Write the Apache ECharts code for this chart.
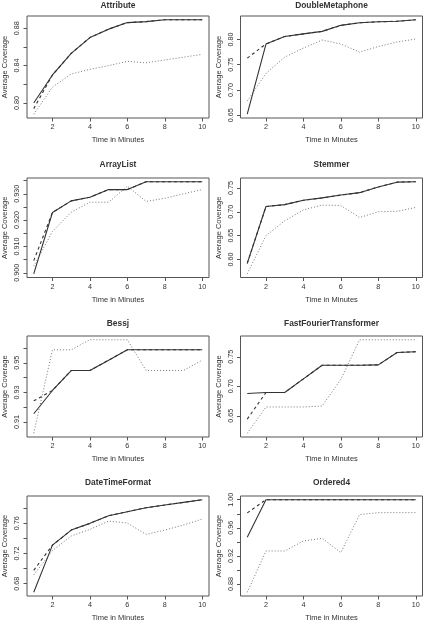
<!DOCTYPE html>
<html>
<head>
<meta charset="utf-8">
<script src="https://cdn.jsdelivr.net/npm/echarts@6/dist/echarts.min.js"></script>
<style>
  html, body { margin: 0; padding: 0; background: #fff; }
  #chart { width: 425px; height: 625px; }
</style>
</head>
<body>
<div id="chart"></div>
<script>
  const minutes = [1, 2, 3, 4, 5, 6, 7, 8, 9, 10];
  const xTicks = [2, 4, 6, 8, 10];

  // Attribute
  const attributeSolid  = [0.800, 0.830, 0.853, 0.870, 0.879, 0.886, 0.887, 0.889, 0.889, 0.889];
  const attributeDashed = [0.794, 0.830, 0.853, 0.870, 0.879, 0.886, 0.887, 0.889, 0.889, 0.889];
  const attributeDotted = [0.788, 0.817, 0.831, 0.836, 0.840, 0.8445, 0.843, 0.846, 0.849, 0.852];
  const attributeTicks  = [0.80, 0.82, 0.84, 0.86, 0.88];
  const attributeLabels = [0.80, 0.84, 0.88];

  // DoubleMetaphone
  const doubleSolid  = [0.652, 0.791, 0.806, 0.811, 0.816, 0.828, 0.833, 0.835, 0.836, 0.839];
  const doubleDashed = [0.763, 0.791, 0.806, 0.811, 0.816, 0.828, 0.833, 0.835, 0.836, 0.839];
  const doubleDotted = [0.678, 0.733, 0.765, 0.783, 0.799, 0.791, 0.775, 0.786, 0.795, 0.801];
  const doubleTicks  = [0.65, 0.70, 0.75, 0.80, 0.85];
  const doubleLabels = [0.65, 0.70, 0.75, 0.80, 0.85];

  // ArrayList
  const arraySolid  = [0.8996, 0.9229, 0.9273, 0.9287, 0.9316, 0.9316, 0.9346, 0.9346, 0.9346, 0.9346];
  const arrayDashed = [0.9046, 0.9229, 0.9273, 0.9287, 0.9316, 0.9316, 0.9346, 0.9346, 0.9346, 0.9346];
  const arrayDotted = [0.9025, 0.9157, 0.9230, 0.9268, 0.9268, 0.9329, 0.9271, 0.9283, 0.9300, 0.9316];
  const arrayTicks  = [0.900, 0.905, 0.910, 0.915, 0.920, 0.925, 0.930, 0.935];
  const arrayLabels = [0.900, 0.910, 0.920, 0.930];

  // Stemmer
  const stemmerSolid  = [0.592, 0.711, 0.715, 0.724, 0.729, 0.735, 0.740, 0.752, 0.762, 0.763];
  const stemmerDashed = [0.592, 0.711, 0.715, 0.724, 0.729, 0.735, 0.740, 0.752, 0.762, 0.763];
  const stemmerDotted = [0.570, 0.650, 0.681, 0.704, 0.714, 0.713, 0.688, 0.700, 0.701, 0.709];
  const stemmerTicks  = [0.60, 0.65, 0.70, 0.75];
  const stemmerLabels = [0.60, 0.65, 0.70, 0.75];

  // Bessj
  const bessjSolid  = [0.9156, 0.9313, 0.9448, 0.9448, 0.9518, 0.9588, 0.9588, 0.9588, 0.9588, 0.9588];
  const bessjDashed = [0.9243, 0.9313, 0.9448, 0.9448, 0.9518, 0.9588, 0.9588, 0.9588, 0.9588, 0.9588];
  const bessjDotted = [0.9024, 0.9588, 0.9588, 0.9656, 0.9656, 0.9656, 0.9448, 0.9448, 0.9448, 0.9518];
  const bessjTicks  = [0.91, 0.92, 0.93, 0.94, 0.95, 0.96];
  const bessjLabels = [0.91, 0.93, 0.95];

  // FastFourierTransformer
  const fftSolid  = [0.6877, 0.6894, 0.6894, 0.7126, 0.7357, 0.7357, 0.7357, 0.7363, 0.7574, 0.7586];
  const fftDashed = [0.6443, 0.6894, 0.6894, 0.7126, 0.7357, 0.7357, 0.7357, 0.7363, 0.7574, 0.7586];
  const fftDotted = [0.6203, 0.6649, 0.6649, 0.6649, 0.6666, 0.7117, 0.7790, 0.7790, 0.7790, 0.7790];
  const fftTicks  = [0.65, 0.70, 0.75];
  const fftLabels = [0.65, 0.70, 0.75];

  // DateTimeFormat
  const dateSolid  = [0.6685, 0.7311, 0.7511, 0.7600, 0.7702, 0.7755, 0.7808, 0.7843, 0.7879, 0.7914];
  const dateDashed = [0.6977, 0.7311, 0.7511, 0.7600, 0.7702, 0.7755, 0.7808, 0.7843, 0.7879, 0.7914];
  const dateDotted = [0.6915, 0.7238, 0.7432, 0.7520, 0.7630, 0.7604, 0.7454, 0.7511, 0.7578, 0.7657];
  const dateTicks  = [0.68, 0.70, 0.72, 0.74, 0.76, 0.78];
  const dateLabels = [0.68, 0.72, 0.76];

  // Ordered4
  const orderedSolid  = [0.9464, 1.000, 1.000, 1.000, 1.000, 1.000, 1.000, 1.000, 1.000, 1.000];
  const orderedDashed = [0.9812, 1.000, 1.000, 1.000, 1.000, 1.000, 1.000, 1.000, 1.000, 1.000];
  const orderedDotted = [0.8682, 0.9270, 0.9270, 0.9412, 0.9450, 0.9247, 0.9788, 0.9816, 0.9816, 0.9816];
  const orderedTicks  = [0.88, 0.90, 0.92, 0.94, 0.96, 0.98, 1.00];
  const orderedLabels = [0.88, 0.92, 0.96, 1.00];

  const panels = [
    {title: 'Attribute', solid: attributeSolid, dashed: attributeDashed, dotted: attributeDotted, ticks: attributeTicks, labels: attributeLabels, digits: 2},
    {title: 'DoubleMetaphone', solid: doubleSolid, dashed: doubleDashed, dotted: doubleDotted, ticks: doubleTicks, labels: doubleLabels, digits: 2},
    {title: 'ArrayList', solid: arraySolid, dashed: arrayDashed, dotted: arrayDotted, ticks: arrayTicks, labels: arrayLabels, digits: 3},
    {title: 'Stemmer', solid: stemmerSolid, dashed: stemmerDashed, dotted: stemmerDotted, ticks: stemmerTicks, labels: stemmerLabels, digits: 2},
    {title: 'Bessj', solid: bessjSolid, dashed: bessjDashed, dotted: bessjDotted, ticks: bessjTicks, labels: bessjLabels, digits: 2},
    {title: 'FastFourierTransformer', solid: fftSolid, dashed: fftDashed, dotted: fftDotted, ticks: fftTicks, labels: fftLabels, digits: 2},
    {title: 'DateTimeFormat', solid: dateSolid, dashed: dateDashed, dotted: dateDotted, ticks: dateTicks, labels: dateLabels, digits: 2},
    {title: 'Ordered4', solid: orderedSolid, dashed: orderedDashed, dotted: orderedDotted, ticks: orderedTicks, labels: orderedLabels, digits: 2}
  ];

  // plot box positions (R style layout, 2 columns x 4 rows)
  const colLeft = [27, 240.5];
  const plotWidth = 182;
  const rowTop = [16, 178, 336, 496];
  const rowHeight = [102, 99.5, 101, 100];
  const titleY = [2, 161, 320, 479];

  const font = '"Liberation Sans", Arial, sans-serif';
  const textColor = '#333';
  const boxColor = '#555';

  const pairs = (ys) => minutes.map((m, i) => [m, ys[i]]);

  let grid = [], xAxis = [], yAxis = [], title = [], series = [];

  panels.forEach((p, i) => {
    const col = i % 2, row = Math.floor(i / 2);
    const all = p.solid.concat(p.dashed, p.dotted);
    const lo = Math.min(...all), hi = Math.max(...all);
    const pad = (hi - lo) * 0.04;

    grid.push({
      left: colLeft[col], top: rowTop[row], width: plotWidth, height: rowHeight[row],
      show: true, borderColor: boxColor, borderWidth: 1, backgroundColor: 'transparent'
    });

    title.push({
      text: p.title,
      left: colLeft[col] + plotWidth / 2,
      top: titleY[row],
      textAlign: 'center',
      padding: 0,
      textStyle: {fontFamily: font, fontSize: 8.4, fontWeight: 'bold', color: textColor}
    });

    xAxis.push({
      gridIndex: i, type: 'value', min: 0.64, max: 10.36,
      axisLine: {show: false},
      splitLine: {show: false},
      axisTick: {customValues: xTicks, length: 3.5, lineStyle: {color: boxColor, width: 1}},
      axisLabel: {customValues: xTicks, fontFamily: font, fontSize: 7.2, color: textColor, margin: 6},
      name: 'Time in Minutes', nameLocation: 'middle', nameGap: 18,
      nameTextStyle: {fontFamily: font, fontSize: 7.5, color: textColor}
    });

    yAxis.push({
      gridIndex: i, type: 'value', min: lo - pad, max: hi + pad,
      axisLine: {show: false},
      splitLine: {show: false},
      axisTick: {customValues: p.ticks, length: 3.5, lineStyle: {color: boxColor, width: 1}},
      axisLabel: {
        customValues: p.labels, rotate: 90, fontFamily: font, fontSize: 7.2, color: textColor, margin: 6,
        formatter: (v) => Number(v).toFixed(p.digits)
      },
      name: 'Average Coverage', nameLocation: 'middle', nameGap: 18,
      nameTextStyle: {fontFamily: font, fontSize: 7.5, color: textColor}
    });

    series.push({
      type: 'line', xAxisIndex: i, yAxisIndex: i, data: pairs(p.dotted),
      symbol: 'none', silent: true,
      lineStyle: {color: '#777', width: 1, type: [1, 2]}
    });
    series.push({
      type: 'line', xAxisIndex: i, yAxisIndex: i, data: pairs(p.solid),
      symbol: 'none', silent: true,
      lineStyle: {color: '#333', width: 1.1, type: 'solid'}
    });
    series.push({
      type: 'line', xAxisIndex: i, yAxisIndex: i, data: pairs(p.dashed),
      symbol: 'none', silent: true,
      lineStyle: {color: '#333', width: 1.1, type: [3, 3]}
    });
  });

  let chart = echarts.init(document.getElementById('chart'));
  chart.setOption({
    animation: false,
    backgroundColor: '#fff',
    title: title,
    grid: grid,
    xAxis: xAxis,
    yAxis: yAxis,
    series: series
  });
</script>
</body>
</html>
